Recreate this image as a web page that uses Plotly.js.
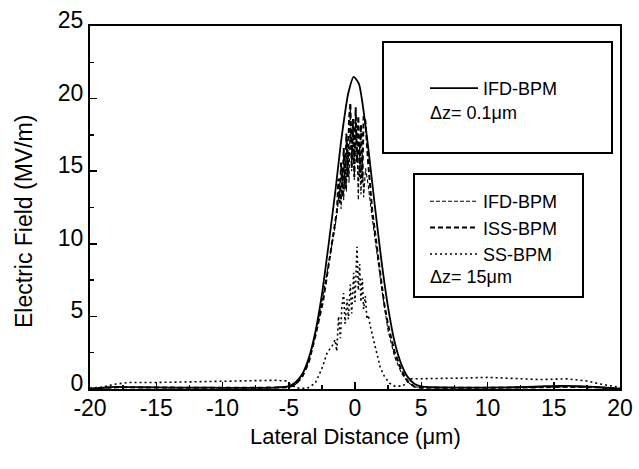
<!DOCTYPE html>
<html>
<head>
<meta charset="utf-8">
<script src="https://cdn.plot.ly/plotly-3.0.1.min.js"></script>
<style>
  html, body { margin: 0; padding: 0; background: #fff; }
  #chart { width: 639px; height: 469px; }
</style>
</head>
<body>
<div id="chart"></div>
<script>
// ---- Data (Lateral distance in µm, field in MV/m) ----
const ifd01X = [-20, -19, -18, -16, -14, -12, -10, -8, -6, -5, -4.5, -4, -3.5, -3, -2.5, -2, -1.5, -1, -0.5, -0.1, 0.3, 0.7, 1, 1.5, 2, 2.5, 3, 3.5, 4, 4.5, 5, 6, 8, 10, 12, 14, 15.5, 17, 18.5, 20];
const ifd01Y = [0.02, 0.1, 0.15, 0.12, 0.1, 0.1, 0.08, 0.08, 0.1, 0.2, 0.45, 1.0, 2.1, 3.9, 6.5, 9.9, 13.5, 17.4, 20.4, 21.5, 21.0, 18.8, 16.6, 12.6, 8.8, 5.6, 3.2, 1.7, 0.8, 0.35, 0.18, 0.12, 0.1, 0.1, 0.12, 0.18, 0.22, 0.2, 0.12, 0.02];

const ifd15X = [-20, -18, -15, -12, -9, -6, -5, -4.5, -4, -3.5, -3, -2.5, -2, -1.5, -1.3, -1.15, -1.05, -0.95, -0.85, -0.75, -0.65, -0.55, -0.45, -0.35, -0.25, -0.15, -0.05, 0.05, 0.15, 0.25, 0.35, 0.45, 0.55, 0.65, 0.8, 1, 1.3, 1.7, 2, 2.5, 3, 3.5, 4, 4.5, 5, 7, 10, 13, 16, 18, 20];
const ifd15Y = [0.02, 0.1, 0.1, 0.08, 0.08, 0.1, 0.15, 0.3, 0.85, 1.9, 3.7, 6.0, 8.6, 11.2, 12.6, 14.2, 12.4, 15.0, 13.0, 16.2, 13.6, 17.2, 14.2, 19.5, 15.0, 18.2, 14.4, 19.2, 16.8, 13.0, 17.0, 13.4, 16.2, 13.2, 15.2, 14.0, 11.8, 9.0, 7.0, 4.0, 2.2, 1.1, 0.45, 0.15, 0.1, 0.08, 0.08, 0.1, 0.15, 0.12, 0.02];

const issX = [-20, -18, -15, -12, -9, -6, -5, -4.5, -4, -3.5, -3, -2.4, -2, -1.6, -1.36, -1.25, -1.15, -1.05, -0.95, -0.85, -0.75, -0.65, -0.55, -0.45, -0.35, -0.25, -0.15, -0.05, 0.05, 0.15, 0.25, 0.35, 0.45, 0.55, 0.65, 0.78, 1, 1.3, 1.6, 1.9, 2.2, 2.5, 3, 3.5, 4, 4.5, 5, 7, 10, 13, 16, 18, 20];
const issY = [0.02, 0.12, 0.1, 0.08, 0.08, 0.1, 0.12, 0.3, 0.8, 1.8, 3.6, 6.1, 8.4, 10.8, 12.3, 14.5, 12.8, 15.6, 13.2, 16.6, 13.8, 17.6, 14.6, 18.6, 19.7, 15.2, 18.6, 14.6, 19.4, 15.6, 18.8, 14.6, 18.2, 14.2, 18.8, 18.5, 15.5, 12.3, 10.2, 7.8, 5.9, 4.4, 2.5, 1.3, 0.5, 0.15, 0.08, 0.08, 0.08, 0.1, 0.15, 0.12, 0.02];

const ssX = [-20, -19, -18, -17, -15, -12, -10, -8, -6, -5.2, -4.7, -4.2, -3.6, -3, -2.5, -2.1, -1.7, -1.5, -1.38, -1.24, -1.1, -1, -0.86, -0.75, -0.6, -0.5, -0.35, -0.25, -0.1, 0, 0.15, 0.25, 0.35, 0.45, 0.55, 0.65, 0.78, 0.9, 1, 1.16, 1.4, 1.67, 1.9, 2.2, 2.6, 3, 3.6, 4.2, 6, 8, 10, 12, 14, 16, 17.5, 18.5, 19.5, 20];
const ssY = [0.05, 0.15, 0.35, 0.45, 0.45, 0.5, 0.5, 0.55, 0.6, 0.55, 0.2, 0.05, 0.05, 0.4, 1.4, 2.5, 3.0, 3.4, 2.6, 5.0, 3.5, 5.6, 6.6, 4.5, 6.2, 4.8, 7.2, 5.2, 8.0, 6.0, 9.8, 6.8, 8.6, 6.0, 7.6, 5.5, 6.4, 4.8, 5.1, 4.3, 3.4, 2.5, 1.5, 0.9, 0.4, 0.2, 0.2, 0.7, 0.7, 0.75, 0.8, 0.7, 0.65, 0.7, 0.55, 0.35, 0.2, 0.1];

const names = ["IFD-BPM", "IFD-BPM", "ISS-BPM", "SS-BPM"];
const stepLabels = ["\u0394z= 0.1\u03bcm", "\u0394z= 15\u03bcm"];
const xTitle = "Lateral Distance (\u03bcm)";
const yTitle = "Electric Field (MV/m)";
const xTickVals = [-20, -15, -10, -5, 0, 5, 10, 15, 20];
const xTickText = ["-20", "-15", "-10", "-5", "0", "5", "10", "15", "20"];
const yTickVals = [0, 5, 10, 15, 20, 25];
const yTickText = ["0", "5", "10", "15", "20", "25"];

const FONT = "'Liberation Sans', Arial, Helvetica, sans-serif";

const traces = [
  { x: ifd01X, y: ifd01Y, name: names[0], mode: "lines", legend: "legend",
    line: { color: "#000", width: 1.8, dash: "solid", shape: "spline", smoothing: 0.6 } },
  { x: ifd15X, y: ifd15Y, name: names[1], mode: "lines", legend: "legend2",
    line: { color: "#000", width: 1.1, dash: "4px,2px" } },
  { x: issX, y: issY, name: names[2], mode: "lines", legend: "legend2",
    line: { color: "#000", width: 2, dash: "5px,3px" } },
  { x: ssX, y: ssY, name: names[3], mode: "lines", legend: "legend2",
    line: { color: "#000", width: 1.6, dash: "2px,3px" } }
];

const PL = 90, PR = 620, PT = 26, PB = 389;
function px(xp) { return (xp - PL) / (PR - PL); }
function py(yp) { return (PB - yp) / (PB - PT); }

const layout = {
  width: 639, height: 469,
  margin: { l: PL, r: 639 - PR, t: PT, b: 469 - PB, pad: 0 },
  paper_bgcolor: "#fff", plot_bgcolor: "#fff",
  font: { family: FONT, color: "#000", size: 22 },
  showlegend: true,
  xaxis: {
    range: [-20, 20], tickmode: "array", tickvals: xTickVals, ticktext: xTickText,
    ticks: "inside", ticklen: 7, tickwidth: 1.5, tickcolor: "#000",
    minor: { ticks: "inside", dtick: 2.5, tick0: 0, ticklen: 4, tickwidth: 1.5, tickcolor: "#000" },
    showline: true, linewidth: 2, linecolor: "#000", mirror: true,
    showgrid: false, zeroline: false,
    tickfont: { size: 23, family: FONT },
    ticklabelstandoff: -3,
    automargin: false
  },
  yaxis: {
    range: [0, 25], tickmode: "array", tickvals: yTickVals, ticktext: yTickText,
    ticks: "inside", ticklen: 7, tickwidth: 1.5, tickcolor: "#000",
    minor: { ticks: "inside", dtick: 2.5, tick0: 0, ticklen: 4, tickwidth: 1.5, tickcolor: "#000" },
    showline: true, linewidth: 2, linecolor: "#000", mirror: true,
    showgrid: false, zeroline: false,
    tickfont: { size: 23, family: FONT },
    ticklabelshift: -6,
    automargin: false
  },
  legend: {
    x: px(425), y: py(70), xanchor: "left", yanchor: "top",
    bgcolor: "rgba(0,0,0,0)", borderwidth: 0,
    font: { size: 18, family: FONT }, itemwidth: 48, tracegroupgap: 0
  },
  legend2: {
    x: px(425), y: py(183), xanchor: "left", yanchor: "top",
    bgcolor: "rgba(0,0,0,0)", borderwidth: 0,
    font: { size: 18, family: FONT }, itemwidth: 48, tracegroupgap: 0
  },
  shapes: [
    { type: "rect", xref: "paper", yref: "paper", x0: px(383), x1: px(612), y0: py(153), y1: py(42),
      line: { color: "#000", width: 2 }, fillcolor: "rgba(0,0,0,0)" },
    { type: "rect", xref: "paper", yref: "paper", x0: px(414), x1: px(583), y0: py(297), y1: py(174),
      line: { color: "#000", width: 2 }, fillcolor: "rgba(0,0,0,0)" }
  ],
  annotations: [
    { text: stepLabels[0], xref: "paper", yref: "paper", x: px(428), y: py(113),
      xanchor: "left", yanchor: "middle", showarrow: false, font: { size: 18, family: FONT } },
    { text: stepLabels[1], xref: "paper", yref: "paper", x: px(428), y: py(277),
      xanchor: "left", yanchor: "middle", showarrow: false, font: { size: 18, family: FONT } },
    { text: xTitle, xref: "paper", yref: "paper", x: px(355), y: py(436),
      xanchor: "center", yanchor: "middle", showarrow: false, font: { size: 22, family: FONT } },
    { text: yTitle, xref: "paper", yref: "paper", x: px(24), y: py(222), textangle: -90,
      xanchor: "center", yanchor: "middle", showarrow: false, font: { size: 23, family: FONT } }
  ]
};

Plotly.newPlot("chart", traces, layout, { staticPlot: true, displayModeBar: false });
</script>
</body>
</html>
